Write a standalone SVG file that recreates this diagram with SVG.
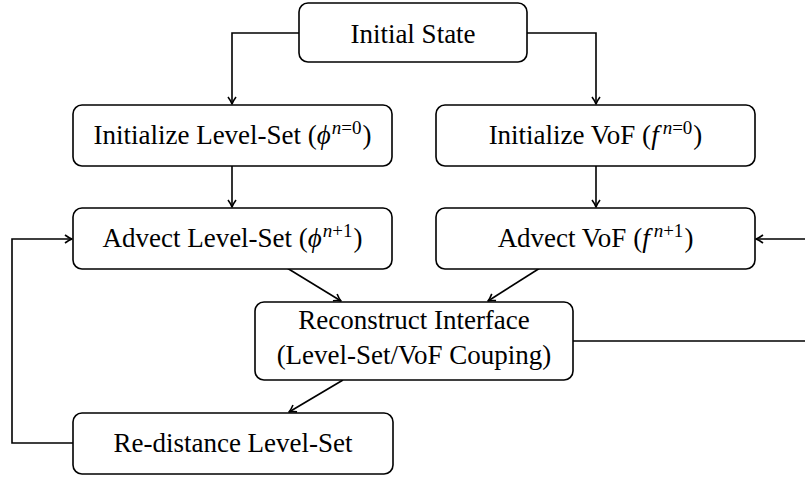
<svg xmlns="http://www.w3.org/2000/svg" width="805" height="477" viewBox="0 0 805 477">
<style>
.box{fill:#fff;stroke:#000;stroke-width:1.6}
.lbl{font-family:"Liberation Serif","DejaVu Serif",serif;font-size:27px;fill:#000;text-anchor:middle}
.it{font-style:italic}
.sup{font-size:19px}
.edge{fill:none;stroke:#000;stroke-width:1.6}
</style>
<defs>
<marker id="arr" markerUnits="userSpaceOnUse" markerWidth="12" markerHeight="12" refX="0" refY="0" viewBox="-9 -6 12 12" orient="auto" overflow="visible">
<path d="M-7,-4 Q-3,-1 0,0 Q-3,1 -7,4" fill="none" stroke="#000" stroke-width="1.6" stroke-linejoin="round"/>
</marker>
</defs>
<rect width="805" height="477" fill="#fff"/>
<g id="connectors">
<path class="edge" d="M299,33 H232 V104" marker-end="url(#arr)"/>
<path class="edge" d="M527,33 H596 V104" marker-end="url(#arr)"/>
<path class="edge" d="M232,166 V207" marker-end="url(#arr)"/>
<path class="edge" d="M596,166 V207" marker-end="url(#arr)"/>
<path class="edge" d="M287,268 L341,301" marker-end="url(#arr)"/>
<path class="edge" d="M540,268 L488,301" marker-end="url(#arr)"/>
<path class="edge" d="M343,380 L289,412" marker-end="url(#arr)"/>
<path class="edge" d="M73,443 H12 V239 H72" marker-end="url(#arr)"/>
<path class="edge" d="M573,341 H810 V239 H756" marker-end="url(#arr)"/>
</g>
<g id="initial">
<rect class="box" x="299" y="3" width="228" height="59" rx="9"/>
<text class="lbl" x="413" y="43">Initial State</text>
</g>
<g id="initLS">
<rect class="box" x="73" y="105" width="319" height="61" rx="9"/>
<text class="lbl" x="232.5" y="144">Initialize Level-Set (<tspan class="it">ϕ</tspan><tspan class="sup it" dy="-10" dx="1">n</tspan><tspan class="sup">=0</tspan><tspan dy="10" dx="1">)</tspan></text>
</g>
<g id="initVoF">
<rect class="box" x="436" y="105" width="319" height="61" rx="9"/>
<text class="lbl" x="595.5" y="144">Initialize VoF (<tspan class="it">f</tspan><tspan class="sup it" dy="-10" dx="4">n</tspan><tspan class="sup">=0</tspan><tspan dy="10" dx="1">)</tspan></text>
</g>
<g id="advectLS">
<rect class="box" x="73" y="208" width="319" height="61" rx="9"/>
<text class="lbl" x="232.5" y="247">Advect Level-Set (<tspan class="it">ϕ</tspan><tspan class="sup it" dy="-10" dx="1">n</tspan><tspan class="sup">+1</tspan><tspan dy="10" dx="1">)</tspan></text>
</g>
<g id="advectVoF">
<rect class="box" x="436" y="208" width="319" height="61" rx="9"/>
<text class="lbl" x="595.5" y="247">Advect VoF (<tspan class="it">f</tspan><tspan class="sup it" dy="-10" dx="4">n</tspan><tspan class="sup">+1</tspan><tspan dy="10" dx="1">)</tspan></text>
</g>
<g id="reconstruct">
<rect class="box" x="255" y="302" width="318" height="78" rx="9"/>
<text class="lbl" x="414" y="329">Reconstruct Interface</text>
<text class="lbl" x="414" y="364">(Level-Set/VoF Couping)</text>
</g>
<g id="redistance">
<rect class="box" x="73" y="413" width="320" height="61" rx="9"/>
<text class="lbl" x="233" y="452">Re-distance Level-Set</text>
</g>
</svg>
